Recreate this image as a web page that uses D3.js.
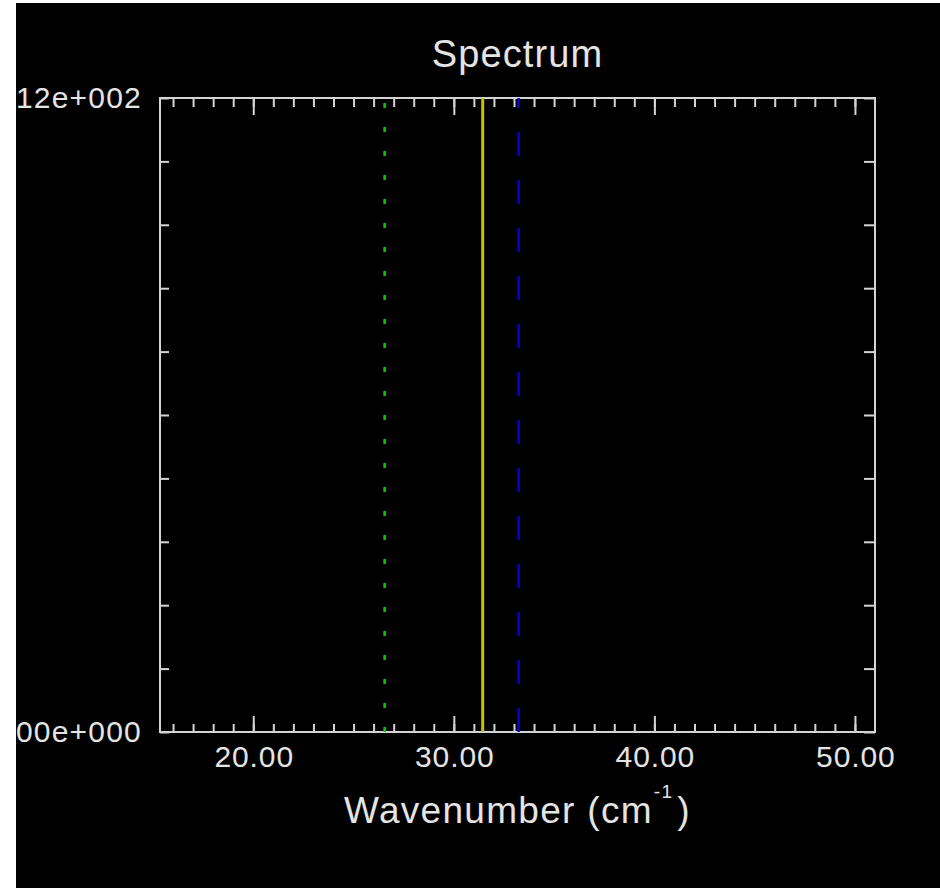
<!DOCTYPE html>
<html>
<head>
<meta charset="utf-8">
<script src="https://cdn.jsdelivr.net/npm/d3@7"></script>
<style>
  html, body { margin: 0; padding: 0; background: #fff; }
  svg { display: block; }
  text { font-family: "Liberation Sans", Arial, sans-serif; fill: #e4e4e4; }
</style>
</head>
<body>
<div id="svgcontainer"></div>
<script>
var width = 940, height = 888;

// chart values
var xDomain = [15.35, 51.0];
var yDomain = [0, 112];
var xMajorTicks = [20, 30, 40, 50];
var xMinorTicks = d3.range(16, 51);
var yTicks = [0, 11.2, 22.4, 33.6, 44.8, 56, 67.2, 78.4, 89.6, 100.8, 112];
var yLabelTicks = [0, 112];
var lineX = [26.55, 31.44, 33.23];
var lineColors = ["#00d000", "#c8c400", "#0000e0"];
var lineDash = ["5,19", null, "24,24"];
var lineDashOffset = [19, 0, 14];

var margin = {left: 160, right: 65, top: 98, bottom: 156};

var x = d3.scaleLinear().domain(xDomain).range([margin.left, width - margin.right]);
var y = d3.scaleLinear().domain(yDomain).range([height - margin.bottom, margin.top]);

var svg = d3.select("#svgcontainer").append("svg")
    .attr("width", width)
    .attr("height", height);

svg.append("rect")
    .attr("x", 16).attr("y", 3)
    .attr("width", width - 16).attr("height", height - 3)
    .attr("fill", "#000");

var fmtY = function (d) {
    if (d === 0) return "0.00e+000";
    var e = Math.floor(Math.log10(d));
    var m = d / Math.pow(10, e);
    return m.toFixed(2) + "e+" + String(e).padStart(3, "0");
};

function styleAxis(g) {
    g.select(".domain").remove();
    g.selectAll("line").attr("stroke", "#d4d4d4").attr("stroke-width", 2);
    g.selectAll("text").attr("fill", "#e4e4e4")
        .style("font-family", "'Liberation Sans', Arial, sans-serif");
}

// bottom axis
var gb = svg.append("g").attr("transform", "translate(0," + y(0) + ")");
gb.append("g").call(d3.axisBottom(x).tickValues(xMinorTicks).tickSizeInner(-8).tickSizeOuter(0).tickFormat(""))
    .call(styleAxis);
gb.append("g").call(d3.axisBottom(x).tickValues(xMajorTicks).tickSizeInner(-16).tickSizeOuter(0)
        .tickPadding(14).tickFormat(d3.format(".2f")))
    .call(styleAxis)
    .selectAll("text").attr("font-size", "30px").attr("dy", "0.71em")
    .attr("letter-spacing", "0.9px").attr("dx", "0.45px");

// top axis
var gt = svg.append("g").attr("transform", "translate(0," + y(yDomain[1]) + ")");
gt.append("g").call(d3.axisTop(x).tickValues(xMinorTicks).tickSizeInner(-9).tickSizeOuter(0).tickFormat(""))
    .call(styleAxis);
gt.append("g").call(d3.axisTop(x).tickValues(xMajorTicks).tickSizeInner(-17).tickSizeOuter(0).tickFormat(""))
    .call(styleAxis);

// left axis
var gl = svg.append("g").attr("transform", "translate(" + x(xDomain[0]) + ",0)");
gl.append("g").call(d3.axisLeft(y).tickValues(yTicks).tickSizeInner(-9).tickSizeOuter(0).tickFormat(""))
    .call(styleAxis);
gl.append("g").call(d3.axisLeft(y).tickValues(yLabelTicks).tickSize(0).tickPadding(18).tickFormat(fmtY))
    .call(styleAxis)
    .selectAll("text").attr("font-size", "30px").attr("letter-spacing", "1.2px");

// right axis
var gr = svg.append("g").attr("transform", "translate(" + x(xDomain[1]) + ",0)");
gr.append("g").call(d3.axisRight(y).tickValues(yTicks).tickSizeInner(-11).tickSizeOuter(0).tickFormat(""))
    .call(styleAxis);

// frame
svg.append("rect")
    .attr("x", x(xDomain[0])).attr("y", y(yDomain[1]))
    .attr("width", x(xDomain[1]) - x(xDomain[0]))
    .attr("height", y(yDomain[0]) - y(yDomain[1]))
    .attr("fill", "none").attr("stroke", "#d4d4d4").attr("stroke-width", 2);

// spectral lines
svg.append("g").selectAll("line")
    .data(lineX).enter().append("line")
    .attr("x1", function (d) { return x(d); })
    .attr("x2", function (d) { return x(d); })
    .attr("y1", y(yDomain[1]))
    .attr("y2", y(yDomain[0]))
    .attr("stroke", function (d, i) { return lineColors[i]; })
    .attr("stroke-width", function (d, i) { return i === 1 ? 3 : 2.5; })
    .attr("stroke-dasharray", function (d, i) { return lineDash[i]; })
    .attr("stroke-dashoffset", function (d, i) { return lineDashOffset[i]; });

// title
svg.append("text")
    .attr("x", (x(xDomain[0]) + x(xDomain[1])) / 2)
    .attr("y", 67)
    .attr("text-anchor", "middle")
    .attr("font-size", "38px")
    .attr("letter-spacing", "1.1px")
    .text("Spectrum");

// x label
var xl = svg.append("text")
    .attr("x", (x(xDomain[0]) + x(xDomain[1])) / 2)
    .attr("y", 823)
    .attr("text-anchor", "middle")
    .attr("font-size", "37px")
    .attr("letter-spacing", "1.3px");
xl.append("tspan").text("Wavenumber (cm");
xl.append("tspan").attr("font-size", "19px").attr("dy", -25).attr("dx", 1).text("-1");
xl.append("tspan").attr("dy", 25).attr("dx", 4).text(")");

// white strip over clipped label edge
svg.append("rect").attr("x", 0).attr("y", 0).attr("width", 16).attr("height", height).attr("fill", "#fff");
svg.append("rect").attr("x", 0).attr("y", 0).attr("width", width).attr("height", 3).attr("fill", "#fff");
</script>
</body>
</html>
